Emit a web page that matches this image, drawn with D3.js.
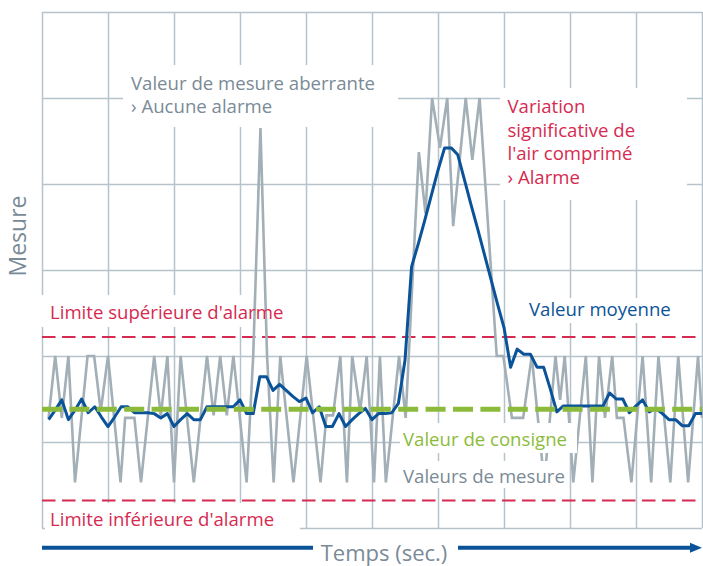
<!DOCTYPE html>
<html>
<head>
<meta charset="utf-8">
<script src="https://cdn.jsdelivr.net/npm/d3@7.9.0/dist/d3.min.js"></script>
<style>
  body { margin: 0; background: #fff; }
  svg { display: block; font-family: "Open Sans", sans-serif; }
</style>
</head>
<body>
<svg id="chart" width="703" height="566"></svg>
<script>
const grayT = [1, 2, 3, 4, 5, 6.9, 7.9, 8.9, 10, 11.9, 12.6, 14, 15, 17, 18, 19, 20, 21, 23, 25, 26, 27, 28, 29,
  31, 32, 33.1, 34.1, 35.1, 36.1, 38.1, 40.1, 42.2, 43.1, 44.1, 45.2, 46.2, 47, 48.2, 49.2, 50.3, 51.2, 52.1,
  54.1, 55.1, 57.1, 58.1, 59.1, 60.3, 61.4, 62.3, 64.2, 65.2, 66.3, 68.9, 69.9, 71.2, 72.9, 74.2, 76.1, 77.8,
  78.5, 79.2, 80.5, 82.4, 83.4, 84.4, 85.3, 86.4, 87.1, 88.1, 89.3, 91, 92.3, 93.4, 95.2, 96.4, 97.9, 99.4, 100];
const grayV = [12.8, 20, 12.8, 20, 5.3, 20, 20, 13.6, 20, 5.3, 12.8, 12.8, 5.3, 20, 13, 20, 5.3, 20, 5.3, 20, 13.1, 20, 13.1, 20,
  5.3, 20, 46.5, 20, 5.3, 20, 5.3, 20, 5.3, 13.1, 13.1, 20, 5.3, 20, 13.6, 20, 5.3, 20, 5.3,
  20, 12.8, 43.7, 36.6, 50, 44.2, 50, 35.1, 50, 42.8, 50, 20, 20, 12.8, 12.8, 20, 5.3, 20,
  14.9, 20, 5.3, 20, 5.3, 20, 12.8, 20, 12.8, 12.8, 5.3, 20, 5.3, 20, 5.3, 20, 5.3, 20, 12.8];

// mean value (blue), one value per second from t=1 to t=100
const meanV = [12.6, 13.7, 14.9, 12.6, 13.7, 15.0, 13.4, 14.1, 12.9, 11.8,
  12.9, 14.1, 14.1, 13.4, 13.4, 13.4, 13.3, 12.8, 13.3, 11.8,
  12.6, 13.3, 12.6, 12.6, 14.1, 14.1, 14.1, 14.1, 14.1, 14.9,
  13.3, 13.3, 17.6, 17.6, 16.0, 16.7, 16.0, 15.3, 14.7, 15.1,
  13.4, 14.1, 11.8, 11.8, 13.3, 11.8, 12.6, 13.3, 13.9, 12.6,
  13.3, 13.3, 13.4, 14.5, 19.5, 30.4, 33.0, 35.8, 38.7, 41.6,
  44.2, 44.2, 43.4, 40.5, 37.6, 34.8, 31.9, 29.0, 26.1, 23.3,
  18.7, 20.8, 20.2, 20.2, 18.7, 18.7, 16.2, 13.5, 14.2, 14.2,
  14.2, 14.2, 14.2, 14.2, 14.2, 15.7, 15.0, 15.0, 13.4, 14.2,
  14.9, 13.5, 13.9, 13.3, 12.6, 12.6, 11.9, 11.9, 13.3, 13.3];

const setpoint = 13.8;
const upperLimit = 22.2;
const lowerLimit = 3.2;

// grid ticks
const xTicks = [0, 10, 20, 30, 40, 50, 60, 70, 80, 90, 100];
const yTicks = [0, 10, 20, 30, 40, 50, 60];

const colors = {
  grid: '#b7c3ca',
  gray: '#a2afb7',
  blue: '#0b5399',
  green: '#8cbb3b',
  red: '#d62a50',
  grayText: '#7a8a96'
};

const svg = d3.select('#chart');

const x = d3.scaleLinear().domain([0, 100]).range([42, 702]);
const y = d3.scaleLinear().domain([0, 60]).range([528, 12]);

// grid lines
svg.append('g')
  .attr('transform', `translate(0,${y(0)})`)
  .call(d3.axisBottom(x).tickValues(xTicks).tickSize(-(y(0) - y(60))).tickFormat(''))
  .call(g => g.select('.domain').remove())
  .call(g => g.selectAll('line').attr('stroke', colors.grid).attr('stroke-width', 1.5));

svg.append('g')
  .attr('transform', `translate(${x(0)},0)`)
  .call(d3.axisLeft(y).tickValues(yTicks).tickSize(-(x(100) - x(0))).tickFormat(''))
  .call(g => g.select('.domain').remove())
  .call(g => g.selectAll('line').attr('stroke', colors.grid).attr('stroke-width', 1.5));

// white boxes behind labels (cut the grid)
const backBoxes = [
  [123, 65, 275, 62],   // aberrante
  [500, 88, 187, 112],  // variation
  [30, 295, 265, 32],   // limite sup
  [45, 503, 255, 32],   // limite inf
  [520, 298, 157, 25]   // moyenne
];
svg.append('g').selectAll('rect')
  .data(backBoxes)
  .join('rect')
  .attr('x', d => d[0]).attr('y', d => d[1])
  .attr('width', d => d[2]).attr('height', d => d[3])
  .attr('fill', '#fff');

// alarm limits
svg.append('g').selectAll('line')
  .data([upperLimit, lowerLimit])
  .join('line')
  .attr('x1', x(0)).attr('x2', x(100))
  .attr('y1', d => y(d)).attr('y2', d => y(d))
  .attr('stroke', colors.red)
  .attr('stroke-width', 2)
  .attr('stroke-dasharray', '13.5 6.5');

// measured values
const grayData = grayT.map((t, i) => [t, grayV[i]]);
svg.append('path')
  .datum(grayData)
  .attr('fill', 'none')
  .attr('stroke', colors.gray)
  .attr('stroke-width', 2.6)
  .attr('stroke-linejoin', 'miter')
  .attr('d', d3.line().x(d => x(d[0])).y(d => y(d[1])));

// mean value
svg.append('path')
  .datum(meanV)
  .attr('fill', 'none')
  .attr('stroke', colors.blue)
  .attr('stroke-width', 3)
  .attr('stroke-linejoin', 'round')
  .attr('d', d3.line().x((d, i) => x(i + 1)).y(d => y(d)));

// set point
svg.append('line')
  .attr('x1', x(0)).attr('x2', x(100))
  .attr('y1', y(setpoint)).attr('y2', y(setpoint))
  .attr('stroke', colors.green)
  .attr('stroke-width', 5)
  .attr('stroke-dasharray', '20 7.4');

// boxes that sit on top of the data
const frontBoxes = [
  [400, 423, 177, 30],  // consigne
  [400, 461, 168, 27]   // mesure
];
svg.append('g').selectAll('rect')
  .data(frontBoxes)
  .join('rect')
  .attr('x', d => d[0]).attr('y', d => d[1])
  .attr('width', d => d[2]).attr('height', d => d[3])
  .attr('fill', '#fff');

// labels
const labels = [
  { lines: ['Valeur de mesure aberrante', '› Aucune alarme'], x: 131, y: 89.5, color: colors.grayText },
  { lines: ['Variation', 'significative de', "l'air comprimé", '› Alarme'], x: 507.5, y: 113, color: colors.red },
  { lines: ["Limite supérieure d'alarme"], x: 50, y: 319, color: colors.red },
  { lines: ["Limite inférieure d'alarme"], x: 50, y: 526, color: colors.red },
  { lines: ['Valeur moyenne'], x: 529, y: 316, color: colors.blue },
  { lines: ['Valeur de consigne'], x: 403, y: 446, color: colors.green },
  { lines: ['Valeurs de mesure'], x: 403, y: 483, color: colors.grayText }
];

labels.forEach(l => {
  const t = svg.append('text')
    .attr('x', l.x).attr('y', l.y)
    .attr('fill', l.color)
    .style('font-size', '18.6px');
  l.lines.forEach((s, i) => {
    t.append('tspan').attr('x', l.x).attr('dy', i === 0 ? 0 : 23.7).text(s);
  });
});

// y axis title
svg.append('text')
  .attr('transform', 'translate(26,236) rotate(-90)')
  .attr('text-anchor', 'middle')
  .attr('fill', colors.grayText)
  .style('font-size', '23px')
  .text('Mesure');

// time axis: arrow + title
const arrowY = 547.7;
svg.append('line')
  .attr('x1', 42).attr('x2', 313)
  .attr('y1', arrowY).attr('y2', arrowY)
  .attr('stroke', colors.blue).attr('stroke-width', 4);
svg.append('line')
  .attr('x1', 458).attr('x2', 693)
  .attr('y1', arrowY).attr('y2', arrowY)
  .attr('stroke', colors.blue).attr('stroke-width', 4);
svg.append('path')
  .attr('d', `M690,${arrowY - 5}L702,${arrowY}L690,${arrowY + 5}Z`)
  .attr('fill', colors.blue);

svg.append('text')
  .attr('x', 384).attr('y', 561)
  .attr('text-anchor', 'middle')
  .attr('fill', colors.grayText)
  .style('font-size', '22px')
  .text('Temps (sec.)');
</script>
</body>
</html>
